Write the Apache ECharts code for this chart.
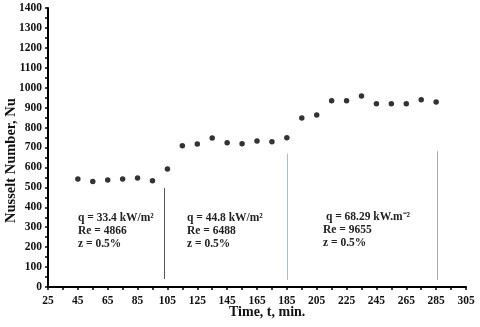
<!DOCTYPE html>
<html>
<head>
<meta charset="utf-8">
<script src="https://cdn.jsdelivr.net/npm/echarts@6/dist/echarts.min.js"></script>
<style>
  html, body { margin: 0; padding: 0; background: #fff; }
  #chart { width: 480px; height: 327px; }
</style>
</head>
<body>
<div id="chart"></div>
<script>
// data
var times = [45, 55, 65, 75, 85, 95, 105, 115, 125, 135, 145, 155, 165, 175, 185,
             195, 205, 215, 225, 235, 245, 255, 265, 275, 285];
var nusselt = [542, 530, 537, 542, 547, 533, 592, 709, 717, 748, 724, 719, 733, 729, 749,
               848, 863, 935, 935, 958, 920, 920, 920, 940, 928];

// separator lines: [x, yBottom, yTop, colour]
var dividers = [
    [103, 40, 497, '#555555'],
    [185, 35, 670, '#a9bccb'],
    [286, 35, 682, '#aaaaaa']
];

// annotation blocks
var notes = [
    { left: 78, top: 212, lines: ['q = 33.4 kW/m\u00b2', 'Re = 4866', 'z = 0.5%'] },
    { left: 187, top: 212, lines: ['q = 44.8 kW/m\u00b2', 'Re = 6488', 'z = 0.5%'] },
    { left: 323, top: 211, lines: [' q = 68.29 kW.m\u207b\u00b2', 'Re = 9655', 'z = 0.5%'] }
];

var font = 'Liberation Serif';

var points = times.map(function (t, i) { return [t, nusselt[i]]; });

var markLines = dividers.map(function (d) {
    return [
        { coord: [d[0], d[1]], lineStyle: { color: d[3], width: 1, type: 'solid' } },
        { coord: [d[0], d[2]] }
    ];
});

var graphics = [];
notes.forEach(function (n) {
    graphics.push({
        type: 'text',
        left: n.left,
        top: n.top,
        style: {
            text: n.lines.join('\n'),
            font: 'bold 11.5px "' + font + '"',
            lineHeight: 13,
            fill: '#222'
        }
    });
});
graphics.push({
    type: 'text',
    left: 229,
    top: 305,
    style: { text: 'Time, t, min.', font: 'bold 14px "' + font + '"', fill: '#111' }
});
graphics.push({
    type: 'text',
    x: 4,
    y: 223,
    rotation: Math.PI / 2,
    style: { text: 'Nusselt Number, Nu', font: 'bold 14.5px "' + font + '"', fill: '#111', textVerticalAlign: 'top' }
});

var option = {
    animation: false,
    backgroundColor: '#fff',
    grid: { left: 48, right: 14, top: 8, bottom: 40, containLabel: false },
    xAxis: {
        type: 'value',
        min: 25,
        max: 305,
        interval: 20,
        splitLine: { show: false },
        axisLine: { onZero: false, lineStyle: { color: '#000', width: 2 } },
        axisTick: { show: true, length: 3, lineStyle: { color: '#000', width: 1.5 } },
        minorTick: { show: true, splitNumber: 2, length: 3, lineStyle: { color: '#000', width: 1.5 } },
        axisLabel: { color: '#111', fontFamily: font, fontWeight: 'bold', fontSize: 11.5, margin: 8,
            formatter: function (v) { return String(v); } }
    },
    yAxis: {
        type: 'value',
        min: 0,
        max: 1400,
        interval: 100,
        splitLine: { show: false },
        axisLine: { show: true, lineStyle: { color: '#000', width: 2 } },
        axisTick: { show: true, length: 3, lineStyle: { color: '#000', width: 1.5 } },
        minorTick: { show: true, splitNumber: 2, length: 3, lineStyle: { color: '#000', width: 1.5 } },
        axisLabel: { color: '#111', fontFamily: font, fontWeight: 'bold', fontSize: 11.5, margin: 6,
            formatter: function (v) { return String(v); } }
    },
    series: [
        {
            type: 'scatter',
            data: points,
            symbol: 'circle',
            symbolSize: 5.5,
            itemStyle: { color: '#000' },
            markLine: {
                silent: true,
                symbol: ['none', 'none'],
                label: { show: false },
                data: markLines
            }
        }
    ],
    graphic: graphics
};

var myChart = echarts.init(document.getElementById('chart'));
myChart.setOption(option);
</script>
</body>
</html>
